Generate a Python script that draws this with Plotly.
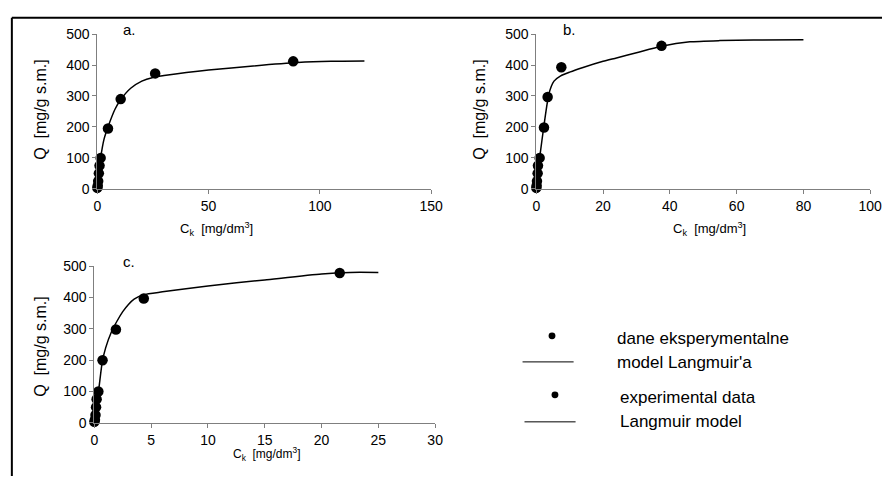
import plotly.graph_objects as go

# ---- data ----
a_x = [0, 0.2, 0.4, 0.7, 1.0, 1.5, 4.8, 10.5, 26, 88]
a_y = [3, 10, 25, 50, 75, 100, 195, 290, 373, 412]
a_cx = [0, 0.5, 1.5, 3, 4.8, 8, 10.5, 15, 20, 25, 30, 40, 50, 70, 90, 105, 120]
a_cy = [0, 40, 100, 160, 200, 258, 288, 325, 348, 360, 366, 376, 384, 397, 408, 412, 413]

b_x = [0, 0.1, 0.2, 0.4, 0.5, 1.0, 2.3, 3.4, 7.5, 37.5]
b_y = [3, 10, 25, 50, 75, 100, 198, 297, 393, 462]
b_cx = [0, 0.5, 1, 2.3, 3.8, 5.3, 7.3, 10, 14, 20, 24, 30, 37.5, 46, 55, 65, 80]
b_cy = [0, 55, 100, 205, 308, 348, 365, 377, 392, 412, 423, 440, 461, 475, 479, 481, 482]

c_x = [0, 0.05, 0.1, 0.15, 0.2, 0.35, 0.72, 1.9, 4.35, 21.6]
c_y = [3, 10, 25, 50, 75, 100, 200, 298, 397, 478]
c_cx = [0, 0.2, 0.4, 0.7, 1.0, 1.5, 2.0, 2.5, 3.0, 3.5, 4.35, 6, 10, 15, 20, 22.5, 25]
c_cy = [0, 60, 110, 195, 240, 290, 325, 355, 378, 395, 409, 418, 437, 456, 475, 480, 480]

panel_labels = ["a.", "b.", "c."]
x_ranges = [[0, 150], [0, 100], [0, 30]]
x_dticks = [50, 20, 5]
y_title = "Q  [mg/g s.m.]"
x_title = "C<sub>k</sub>  [mg/dm<sup>3</sup>]"
legend_texts = ["dane eksperymentalne", "model Langmuir'a", "experimental data", "Langmuir model"]

W, H = 894, 484
FONT = "Liberation Sans, Arial, sans-serif"
AX = "#7f7f7f"

def px(x):
    return x / W

def py(y):
    return 1 - y / H

panels = [
    dict(xd=[px(95), px(435)], yd=[py(187), py(27)], pts=(a_x, a_y), crv=(a_cx, a_cy),
         lab=(119, 22), ytit=(37, 105), xtit=(216, 229), xts=13),
    dict(xd=[px(542), px(882)], yd=[py(187), py(27)], pts=(b_x, b_y), crv=(b_cx, b_cy),
         lab=(567, 22), ytit=(484, 105), xtit=(718, 229), xts=13),
    dict(xd=[px(92), px(439)], yd=[py(429), py(267)], pts=(c_x, c_y), crv=(c_cx, c_cy),
         lab=(119, 262), ytit=(37, 350), xtit=(268, 461), xts=12),
]

fig = go.Figure()
layout = dict(
    width=W, height=H, margin=dict(l=0, r=0, t=0, b=0),
    paper_bgcolor="white", plot_bgcolor="white", showlegend=False,
    font=dict(family=FONT, color="black", size=13),
)
annotations = []
for i, p in enumerate(panels):
    n = "" if i == 0 else str(i + 1)
    xa, ya = "x" + n, "y" + n
    fig.add_trace(go.Scatter(x=p["crv"][0], y=p["crv"][1], mode="lines",
                             line=dict(color="black", width=1.5, shape="spline", smoothing=0.6),
                             xaxis=xa, yaxis=ya, cliponaxis=False))
    fig.add_trace(go.Scatter(x=p["pts"][0], y=p["pts"][1], mode="markers",
                             marker=dict(color="black", size=10.5),
                             xaxis=xa, yaxis=ya, cliponaxis=False))
    common = dict(showgrid=False, zeroline=False, showline=True, linecolor=AX, linewidth=1,
                  ticks="outside", ticklen=4, tickcolor=AX, tickfont=dict(size=14, family=FONT))
    layout["xaxis" + n] = dict(domain=p["xd"], range=x_ranges[i], dtick=x_dticks[i], tick0=0,
                               anchor=ya, **common)
    layout["yaxis" + n] = dict(domain=p["yd"], range=[0, 500], dtick=100, tick0=0,
                               anchor=xa, **common)
    annotations.append(dict(text=panel_labels[i], xref="paper", yref="paper",
                            x=px(p["lab"][0]), y=py(p["lab"][1]), showarrow=False,
                            xanchor="left", yanchor="middle", font=dict(size=15)))
    annotations.append(dict(text=y_title, xref="paper", yref="paper",
                            x=px(p["ytit"][0]), y=py(p["ytit"][1]), textangle=-90,
                            showarrow=False, xanchor="center", yanchor="middle",
                            font=dict(size=16)))
    annotations.append(dict(text=x_title, xref="paper", yref="paper",
                            x=px(p["xtit"][0]), y=py(p["xtit"][1]),
                            showarrow=False, xanchor="center", yanchor="middle",
                            font=dict(size=p["xts"])))

shapes = [
    dict(type="line", xref="paper", yref="paper", x0=px(8), x1=1, y0=py(10), y1=py(10),
         line=dict(color="black", width=2)),
    dict(type="line", xref="paper", yref="paper", x0=px(8), x1=px(8), y0=py(10), y1=0,
         line=dict(color="black", width=2)),
]
leg_rows = [(339, 342, "m", 558, 622), (366, 367, "l", 528, 622),
            (400, 403, "m", 561, 625), (428, 428, "l", 530, 625)]
for (ym, yt, kind, sx, tx), txt in zip(leg_rows, legend_texts):
    if kind == "m":
        shapes.append(dict(type="circle", xref="paper", yref="paper",
                           x0=px(sx - 3.5), x1=px(sx + 3.5), y0=py(ym + 3.5), y1=py(ym - 3.5),
                           fillcolor="black", line=dict(color="black", width=0)))
    else:
        shapes.append(dict(type="line", xref="paper", yref="paper",
                           x0=px(sx), x1=px(sx + 52), y0=py(ym), y1=py(ym),
                           line=dict(color="black", width=1)))
    annotations.append(dict(text=txt, xref="paper", yref="paper", x=px(tx), y=py(yt),
                            xanchor="left", yanchor="middle", showarrow=False,
                            font=dict(size=17)))

layout["annotations"] = annotations
layout["shapes"] = shapes
fig.update_layout(**layout)
fig.write_html("out.html", config={"displayModeBar": False},
               post_script="document.body.style.margin='0';document.body.style.overflow='hidden';")
